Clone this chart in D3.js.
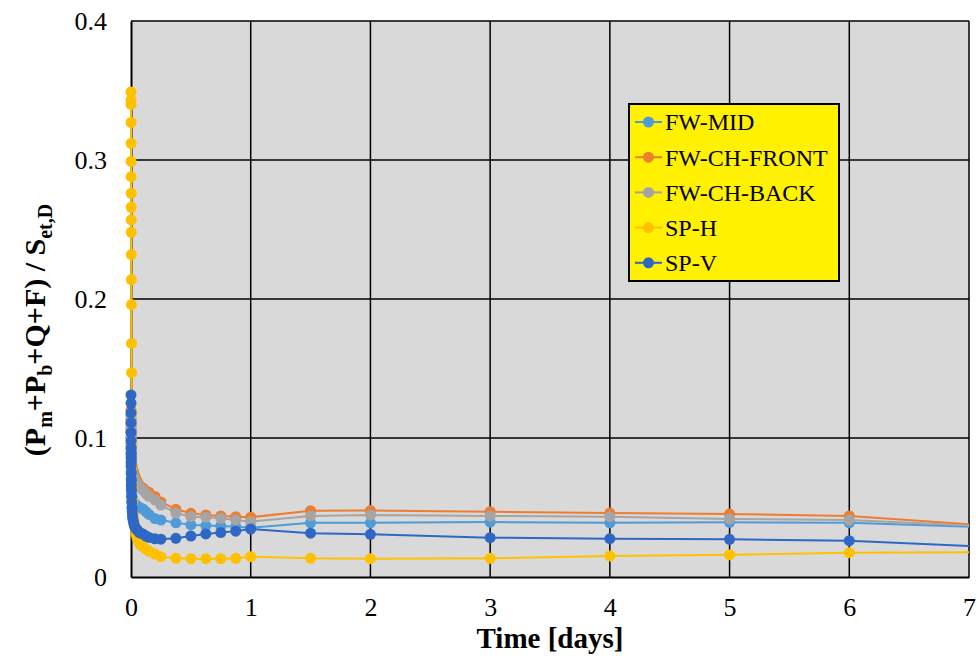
<!DOCTYPE html>
<html>
<head>
<meta charset="utf-8">
<script src="https://cdn.jsdelivr.net/npm/d3@7"></script>
<style>
  body { margin: 0; background: #fff; }
  svg text { font-family: "Liberation Serif", "Times New Roman", serif !important; fill: #000; }
</style>
</head>
<body>
<svg id="chart" width="978" height="657"></svg>
<script>
// time in days (last point lies past the axis max and is clipped)
const days = [0, 0.0002, 0.0004, 0.0006, 0.0008, 0.001, 0.0012, 0.0014, 0.0016, 0.0018,
  0.002, 0.0025, 0.003, 0.0035, 0.004, 0.005, 0.006, 0.008, 0.01, 0.0125,
  0.015, 0.02, 0.025, 0.03, 0.04, 0.05, 0.06, 0.07, 0.08, 0.1,
  0.125, 0.15, 0.2, 0.25, 0.375, 0.5, 0.625, 0.75, 0.875, 1,
  1.5, 2, 3, 4, 5, 6, 8];

const fwMid = [.105, .100, .096, .092, .088, .085, .082, .080, .078, .076,
  .074, .071, .068, .066, .064, .062, .060, .058, .057, .056,
  .055, .054, .053, .0525, .052, .051, .0505, .050, .0495, .049,
  .047, .045, .042, .041, .039, .0375, .037, .0367, .0362, .0355,
  .039, .039, .0395, .039, .0393, .039, .0334];

const fwChFront = [.120, .117, .114, .111, .108, .105, .102, .100, .098, .096,
  .094, .091, .089, .087, .086, .084, .082, .080, .079, .078,
  .077, .076, .074, .073, .071, .069, .067, .066, .065, .064,
  .062, .061, .058, .054, .0487, .0458, .0446, .0439, .0434, .043,
  .0477, .0478, .047, .046, .0453, .0439, .032];

const fwChBack = [.116, .113, .110, .107, .104, .101, .098, .096, .094, .092,
  .090, .087, .085, .083, .081, .079, .077, .075, .074, .073,
  .073, .072, .071, .070, .068, .067, .066, .065, .064, .0626,
  .060, .058, .0554, .0518, .046, .0434, .043, .0422, .041, .0398,
  .0439, .0446, .0439, .0434, .0417, .041, .033];

const spH = [.349, .343, .340, .327, .312, .299, .288, .276, .266, .257,
  .248, .232, .214, .196, .168, .147, .118, .095, .080, .065,
  .055, .045, .040, .036, .031, .028, .026, .0245, .023, .0218,
  .020, .0185, .0165, .0146, .0134, .0132, .0132, .0132, .0134, .0146,
  .0134, .0132, .0134, .0151, .016, .0175, .0181];

const spV = [.131, .125, .118, .111, .104, .098, .093, .089, .086, .083,
  .080, .075, .070, .066, .063, .058, .054, .050, .047, .044,
  .042, .040, .038, .0365, .035, .034, .033, .032, .0315, .031,
  .0295, .0285, .0275, .0272, .0278, .0295, .031, .032, .033, .0345,
  .0315, .0307, .0283, .0276, .0271, .0261, .0185];

const seriesNames = ["FW-MID", "FW-CH-FRONT", "FW-CH-BACK", "SP-H", "SP-V"];
const seriesValues = [fwMid, fwChFront, fwChBack, spH, spV];
const seriesColors = ["#4f9bd8", "#ed7d31", "#a5a5a5", "#ffc000", "#2f68c4"];

const xTicks = [0, 1, 2, 3, 4, 5, 6, 7];
const yTicks = [0, 0.1, 0.2, 0.3, 0.4];

const svg = d3.select("#chart");
const margin = { top: 21, right: 9, bottom: 80, left: 131 };
const W = 978, H = 657;
const w = W - margin.left - margin.right;
const h = H - margin.top - margin.bottom;

const x = d3.scaleLinear().domain([0, 7]).range([0, w]);
const y = d3.scaleLinear().domain([0, 0.4]).range([h, 0]);

const g = svg.append("g").attr("transform", `translate(${margin.left},${margin.top})`);

// plot background
g.append("rect").attr("width", w).attr("height", h).attr("fill", "#d9d9d9");

// grid
g.append("g")
  .selectAll("line")
  .data(yTicks.slice(1))
  .join("line")
  .attr("x1", 0).attr("x2", w)
  .attr("y1", d => y(d)).attr("y2", d => y(d))
  .attr("stroke", "#000").attr("stroke-width", 1.5);

g.append("g")
  .selectAll("line")
  .data(xTicks.slice(1))
  .join("line")
  .attr("x1", d => x(d)).attr("x2", d => x(d))
  .attr("y1", 0).attr("y2", h)
  .attr("stroke", "#000").attr("stroke-width", 1.5);

// axes (labels only, no tick marks)
const xAxis = g.append("g")
  .attr("transform", `translate(0,${h})`)
  .call(d3.axisBottom(x).tickValues(xTicks).tickFormat(d3.format("d")).tickSize(0).tickPadding(21));
const yAxis = g.append("g")
  .call(d3.axisLeft(y).tickValues(yTicks).tickFormat(d => d === 0 ? "0" : d3.format(".1f")(d)).tickSize(0).tickPadding(24));
[xAxis, yAxis].forEach(a => {
  a.attr("font-family", null);
  a.select(".domain").attr("stroke", "#000").attr("stroke-width", 2);
  a.selectAll("text").attr("font-size", 26);
});

// series, clipped at the right edge only
svg.append("defs").append("clipPath").attr("id", "clip")
  .append("rect").attr("x", -30).attr("y", -30).attr("width", w + 30).attr("height", h + 60);

const plot = g.append("g").attr("clip-path", "url(#clip)");

const line = d3.line().x(d => x(d[0])).y(d => y(d[1]));

seriesValues.forEach((vals, i) => {
  const pts = days.map((t, j) => [t, vals[j]]);
  const sg = plot.append("g");
  sg.append("path")
    .datum(pts)
    .attr("d", line)
    .attr("fill", "none")
    .attr("stroke", seriesColors[i])
    .attr("stroke-width", 2);
  sg.selectAll("circle")
    .data(pts)
    .join("circle")
    .attr("cx", d => x(d[0]))
    .attr("cy", d => y(d[1]))
    .attr("r", 5.5)
    .attr("fill", seriesColors[i]);
});

// legend
const lg = svg.append("g").attr("transform", "translate(629,104)");
lg.append("rect").attr("width", 210).attr("height", 177)
  .attr("fill", "#fff100").attr("stroke", "#000").attr("stroke-width", 2);
seriesNames.forEach((name, i) => {
  const yy = 18 + i * 35.2;
  lg.append("line").attr("x1", 6).attr("x2", 33).attr("y1", yy).attr("y2", yy)
    .attr("stroke", seriesColors[i]).attr("stroke-width", 2);
  lg.append("circle").attr("cx", 19.5).attr("cy", yy).attr("r", 5.5).attr("fill", seriesColors[i]);
  lg.append("text").attr("x", 36).attr("y", yy).attr("dy", "0.35em")
    .attr("font-size", 24).text(name);
});

// axis titles
svg.append("text")
  .attr("x", margin.left + w / 2).attr("y", 648)
  .attr("text-anchor", "middle")
  .attr("font-size", 29).attr("font-weight", "bold")
  .text("Time [days]");

const yt = svg.append("text")
  .attr("transform", "translate(45,330) rotate(-90)")
  .attr("text-anchor", "middle")
  .attr("font-size", 30).attr("font-weight", "bold");
const parts = [["(P", 0], ["m", 1], ["+P", 0], ["b", 1], ["+Q+F) / S", 0], ["et,D", 1]];
let shifted = false;
parts.forEach(([txt, sub]) => {
  const ts = yt.append("tspan").text(txt);
  if (sub) { ts.attr("font-size", 20).attr("dy", 7); shifted = true; }
  else if (shifted) { ts.attr("dy", -7); shifted = false; }
});
</script>
</body>
</html>
